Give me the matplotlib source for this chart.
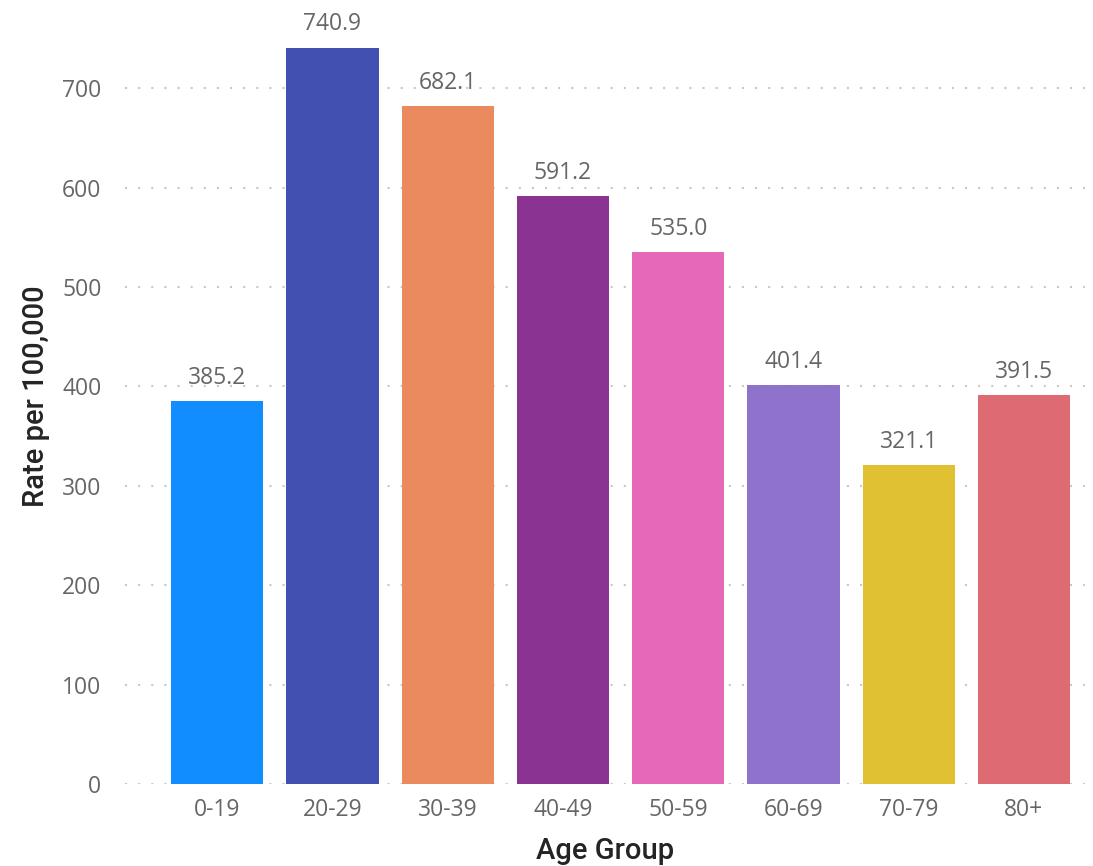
import matplotlib.pyplot as plt

plt.rcParams['font.family'] = ['Open Sans', 'DejaVu Sans']

ages = ['0-19', '20-29', '30-39', '40-49', '50-59', '60-69', '70-79', '80+']
rates = [385.2, 740.9, 682.1, 591.2, 535.0, 401.4, 321.1, 391.5]
colors = ['#118DFF', '#4150B1', '#EA8A5E', '#8A3392', '#E668B8', '#8E72CC', '#DFC131', '#DE6A73']
yticks = [0, 100, 200, 300, 400, 500, 600, 700]

fig = plt.figure(figsize=(10.93, 8.66), dpi=100)
ax = fig.add_axes([0.1144, 0.0947, 0.8783, 0.8953])

x = range(len(ages))
bars = ax.bar(x, rates, width=0.8, color=colors, zorder=2)
for xi, v in zip(x, rates):
    ax.annotate(f'{v:.1f}', (xi, v), xytext=(0, 8), textcoords='offset points',
                ha='center', va='bottom', fontsize=16.5, color='#666666')

ax.set_xlim(-0.8, 7.53)
ax.set_ylim(0, 780)
ax.set_yticks(yticks)
ax.set_xticks(list(x))
ax.set_xticklabels(ages)
ax.yaxis.grid(True, color='#C8C8C8', linestyle=(0, (1, 5.3)), linewidth=1.5, zorder=0)
ax.set_axisbelow(True)
for s in ax.spines.values():
    s.set_visible(False)
ax.tick_params(axis='both', length=0, labelsize=16.5, labelcolor='#666666')
ax.tick_params(axis='y', pad=17)
ax.tick_params(axis='x', pad=10)

title_font = dict(family=['Roboto', 'DejaVu Sans'], fontsize=21, fontweight='medium', color='#252423')
ax.set_xlabel('Age Group', labelpad=11, **title_font)
ax.set_ylabel('Rate per 100,000', labelpad=9, **title_font)

plt.savefig('out.png')
